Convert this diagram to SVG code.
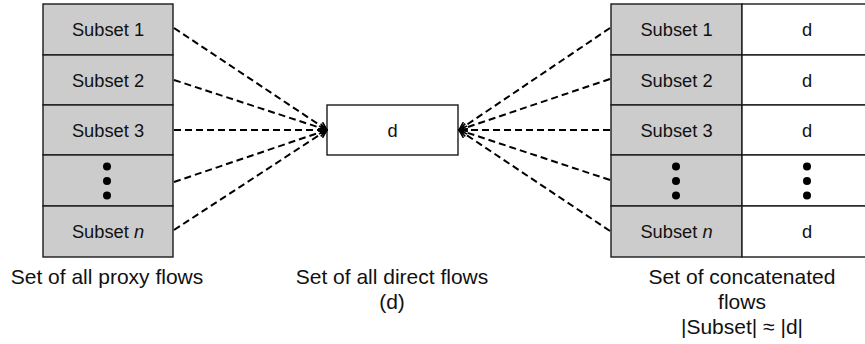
<svg xmlns="http://www.w3.org/2000/svg" width="865" height="344" viewBox="0 0 865 344">
  <style>
    .cell { fill: #cccccc; stroke: #1a1a1a; stroke-width: 1.4; }
    .cellw { fill: #ffffff; stroke: #1a1a1a; stroke-width: 1.4; }
    .t { font-family: "Liberation Sans", Arial, sans-serif; font-size: 18.3px; fill: #111; text-anchor: middle; }
    .cap { font-family: "Liberation Sans", Arial, sans-serif; font-size: 21px; fill: #111; text-anchor: middle; }
    .flow { fill: none; stroke: #000; stroke-width: 2; stroke-dasharray: 7 4; }
    .dot { fill: #000; }
  </style>
  <defs>
    <marker id="head" viewBox="0 0 10 10" refX="9" refY="5" markerWidth="5" markerHeight="5" orient="auto" markerUnits="strokeWidth">
      <path d="M1,1 L9,5 L1,9" fill="none" stroke="#000" stroke-width="1.6"/>
    </marker>
  </defs>

  <rect width="865" height="344" fill="#ffffff"/>

  <!-- proxy flow subsets -->
  <g id="proxy-set">
    <rect class="cell" x="43" y="4" width="130" height="51"/>
    <rect class="cell" x="43" y="55" width="130" height="50"/>
    <rect class="cell" x="43" y="105" width="130" height="50"/>
    <rect class="cell" x="43" y="155" width="130" height="51"/>
    <rect class="cell" x="43" y="206" width="130" height="51"/>
    <text class="t" x="108" y="36">Subset 1</text>
    <text class="t" x="108" y="86.5">Subset 2</text>
    <text class="t" x="108" y="136.5">Subset 3</text>
    <circle class="dot" cx="107" cy="166.5" r="4"/>
    <circle class="dot" cx="107" cy="181" r="4"/>
    <circle class="dot" cx="107" cy="195.5" r="4"/>
    <text class="t" x="108" y="238">Subset <tspan font-style="italic">n</tspan></text>
    <text class="cap" x="107" y="284">Set of all proxy flows</text>
  </g>

  <!-- direct flows -->
  <g id="direct-set">
    <rect class="cellw" x="327" y="105" width="131" height="50"/>
    <text class="t" x="392.5" y="136.5">d</text>
    <text class="cap" x="392" y="284">Set of all direct flows</text>
    <text class="cap" x="392" y="309">(d)</text>
  </g>

  <!-- concatenated flows -->
  <g id="concat-set">
    <rect class="cell" x="611" y="4" width="131" height="51"/>
    <rect class="cell" x="611" y="55" width="131" height="50"/>
    <rect class="cell" x="611" y="105" width="131" height="50"/>
    <rect class="cell" x="611" y="155" width="131" height="51"/>
    <rect class="cell" x="611" y="206" width="131" height="51"/>
    <rect class="cellw" x="742" y="4" width="131" height="51"/>
    <rect class="cellw" x="742" y="55" width="131" height="50"/>
    <rect class="cellw" x="742" y="105" width="131" height="50"/>
    <rect class="cellw" x="742" y="155" width="131" height="51"/>
    <rect class="cellw" x="742" y="206" width="131" height="51"/>
    <text class="t" x="676.5" y="36">Subset 1</text>
    <text class="t" x="676.5" y="86.5">Subset 2</text>
    <text class="t" x="676.5" y="136.5">Subset 3</text>
    <circle class="dot" cx="676" cy="166.5" r="4"/>
    <circle class="dot" cx="676" cy="181" r="4"/>
    <circle class="dot" cx="676" cy="195.5" r="4"/>
    <text class="t" x="676.5" y="238">Subset <tspan font-style="italic">n</tspan></text>
    <text class="t" x="807" y="36">d</text>
    <text class="t" x="807" y="86.5">d</text>
    <text class="t" x="807" y="136.5">d</text>
    <circle class="dot" cx="807" cy="166.5" r="4"/>
    <circle class="dot" cx="807" cy="181" r="4"/>
    <circle class="dot" cx="807" cy="195.5" r="4"/>
    <text class="t" x="807" y="238">d</text>
    <text class="cap" x="742" y="284">Set of concatenated</text>
    <text class="cap" x="742" y="309">flows</text>
    <text class="cap" x="742" y="334">|Subset| ≈ |d|</text>
  </g>

  <!-- dashed connectors -->
  <g id="connectors">
    <line class="flow" x1="174" y1="28" x2="327" y2="130" marker-end="url(#head)"/>
    <line class="flow" x1="174" y1="80" x2="327" y2="130" marker-end="url(#head)"/>
    <line class="flow" x1="174" y1="130" x2="327" y2="130" marker-end="url(#head)"/>
    <line class="flow" x1="174" y1="182" x2="327" y2="130" marker-end="url(#head)"/>
    <line class="flow" x1="174" y1="230" x2="327" y2="130" marker-end="url(#head)"/>
    <line class="flow" x1="610" y1="28" x2="459" y2="130" marker-end="url(#head)"/>
    <line class="flow" x1="610" y1="79" x2="459" y2="130" marker-end="url(#head)"/>
    <line class="flow" x1="610" y1="130" x2="459" y2="130" marker-end="url(#head)"/>
    <line class="flow" x1="610" y1="180" x2="459" y2="130" marker-end="url(#head)"/>
    <line class="flow" x1="610" y1="231" x2="459" y2="130" marker-end="url(#head)"/>
  </g>
</svg>
